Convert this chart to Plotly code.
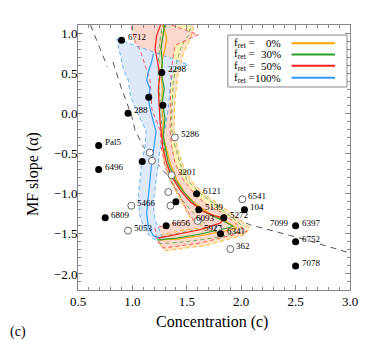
import plotly.graph_objects as go

# ---------------- data ----------------
# dashed model curves (c, alpha)
curveA_c = [0.615, 0.66, 0.71, 0.77]
curveA_a = [1.10, 0.95, 0.80, 0.58]
curveB_c = [0.822, 0.858, 0.904, 0.95, 0.996, 1.024, 1.10, 1.30, 1.50, 1.62, 2.08, 2.54, 2.97, 3.0]
curveB_a = [0.639, 0.478, 0.291, 0.129, -0.045, -0.206, -0.414, -0.74, -0.974, -1.09, -1.388, -1.553, -1.728, -1.74]

# median tracks
blue_c = [1.192, 1.177, 1.146, 1.131, 1.162, 1.146, 1.162, 1.192, 1.217, 1.199, 1.177, 1.162, 1.146, 1.131, 1.146, 1.192, 1.254]
blue_a = [0.743, 0.639, 0.515, 0.412, 0.307, 0.183, 0.058, -0.107, -0.231, -0.414, -0.621, -0.828, -1.036, -1.243, -1.409, -1.525, -1.554]
red_c = [1.269, 1.223, 1.208, 1.233, 1.254, 1.238, 1.244, 1.254, 1.269, 1.278, 1.315, 1.361, 1.438, 1.529, 1.651, 1.759, 1.851, 1.805, 1.621, 1.407, 1.238]
red_a = [1.137, 0.971, 0.805, 0.639, 0.474, 0.307, 0.101, -0.107, -0.272, -0.414, -0.621, -0.787, -0.953, -1.098, -1.223, -1.276, -1.305, -1.367, -1.450, -1.512, -1.554]
green_c = [1.300, 1.284, 1.263, 1.275, 1.269, 1.293, 1.275, 1.300, 1.284, 1.300, 1.330, 1.392, 1.468, 1.575, 1.683, 1.805, 1.927, 1.805, 1.591, 1.407, 1.238]
green_a = [1.137, 0.971, 0.805, 0.639, 0.474, 0.307, 0.142, -0.066, -0.272, -0.414, -0.621, -0.828, -0.974, -1.139, -1.243, -1.317, -1.409, -1.450, -1.512, -1.554, -1.575]
orange_c = [1.284, 1.284, 1.315, 1.300, 1.275, 1.263, 1.275, 1.269, 1.284, 1.275, 1.309, 1.346, 1.407, 1.483, 1.591, 1.713, 1.835, 1.959, 1.835, 1.621, 1.407, 1.254]
orange_a = [1.137, 1.096, 0.929, 0.805, 0.680, 0.515, 0.307, 0.101, -0.107, -0.272, -0.414, -0.621, -0.828, -0.993, -1.139, -1.251, -1.326, -1.429, -1.471, -1.524, -1.566, -1.575]

# spread envelopes (closed outlines)
blue_band_c = [0.856, 1.514, 1.376, 1.346, 1.330, 1.300, 1.254, 1.229, 1.208, 1.192, 1.208, 1.254, 1.284, 1.223, 1.162, 1.100, 1.063, 1.054, 1.070, 1.085, 1.116, 1.125, 1.100, 1.054, 1.008, 0.978, 0.962, 0.916, 0.886, 0.856]
blue_band_a = [0.929, 0.606, 0.536, 0.307, 0.058, -0.190, -0.455, -0.704, -0.912, -1.118, -1.326, -1.491, -1.575, -1.587, -1.534, -1.409, -1.243, -1.036, -0.828, -0.621, -0.414, -0.206, -0.148, -0.024, 0.121, 0.245, 0.412, 0.556, 0.723, 0.929]
red_band_c = [0.978, 1.284, 1.606, 1.392, 1.364, 1.346, 1.355, 1.346, 1.361, 1.392, 1.468, 1.591, 1.713, 1.835, 1.927, 2.051, 1.621, 1.284, 1.223, 1.208, 1.315, 1.560, 1.499, 1.438, 1.361, 1.300, 1.269, 1.254, 1.180, 1.162, 1.070, 1.024, 0.978]
red_band_a = [1.137, 1.137, 0.979, 0.847, 0.602, 0.291, 0.042, -0.206, -0.414, -0.621, -0.828, -1.036, -1.160, -1.243, -1.347, -1.471, -1.616, -1.678, -1.575, -1.429, -1.388, -1.326, -1.201, -1.036, -0.869, -0.663, -0.455, -0.206, 0.042, 0.415, 0.789, 0.888, 1.137]
green_band_c = [1.281, 1.545, 1.514, 1.453, 1.407, 1.376, 1.364, 1.361, 1.392, 1.438, 1.499, 1.621, 1.744, 1.867, 2.019, 1.959, 1.759, 1.483, 1.254, 1.226, 1.438, 1.713, 1.575, 1.456, 1.364, 1.309, 1.272, 1.254, 1.235, 1.254, 1.281]
green_band_a = [1.137, 1.137, 0.971, 0.847, 0.639, 0.391, 0.067, -0.206, -0.414, -0.621, -0.828, -0.994, -1.118, -1.243, -1.409, -1.488, -1.550, -1.600, -1.624, -1.550, -1.488, -1.425, -1.264, -1.077, -0.853, -0.604, -0.206, 0.167, 0.540, 0.913, 1.137]
orange_band_c = [1.300, 1.575, 1.529, 1.465, 1.419, 1.392, 1.382, 1.419, 1.474, 1.548, 1.667, 1.805, 1.943, 2.081, 2.035, 1.667, 1.300, 1.235, 1.272, 1.483, 1.667, 1.529, 1.438, 1.346, 1.290, 1.263, 1.244, 1.244, 1.263, 1.300]
orange_band_a = [1.137, 1.137, 0.913, 0.726, 0.478, 0.167, -0.206, -0.455, -0.679, -0.853, -1.015, -1.139, -1.276, -1.425, -1.512, -1.649, -1.711, -1.599, -1.512, -1.450, -1.425, -1.301, -1.077, -0.828, -0.580, -0.206, 0.167, 0.540, 0.913, 1.137]

# clusters
filled_c = [0.90, 1.27, 1.15, 1.28, 0.96, 0.69, 0.69, 1.09, 0.75, 1.40, 1.31, 1.59, 1.61, 1.84, 1.81, 2.03, 2.50, 2.50, 2.50]
filled_a = [0.91, 0.51, 0.20, 0.10, 0.00, -0.40, -0.70, -0.60, -1.30, -1.10, -1.40, -1.00, -1.20, -1.30, -1.50, -1.20, -1.40, -1.60, -1.90]
filled_lbl = ["6712", "2298", "", "", "288", "Pal5", "6496", "", "6809", "", "6656", "6121", "5139", "5272", "6341", "104", "6397", "6752", "7078"]
open_c = [1.39, 1.16, 1.18, 1.36, 1.33, 1.35, 0.99, 0.96, 2.01, 1.90, 1.79, 1.60]
open_a = [-0.30, -0.49, -0.59, -0.77, -0.98, -1.15, -1.15, -1.46, -1.07, -1.69, -1.44, -1.34]
open_lbl = ["5286", "", "", "3201", "", "", "5466", "5053", "6541", "362", "", "5927"]
extra_lbl = ["7099", "6093"]
extra_c = [2.50, 1.79]
extra_a = [-1.40, -1.30]

leg_names = ["0%", "30%", "50%", "100%"]

# ---------------- styles ----------------
FONT = "Liberation Serif, DejaVu Serif, serif"
col = {"orange": "#ffa500", "green": "#2ca02c", "red": "#ff2020", "blue": "#3399ff"}
fillc = {"orange": "#fde3c3", "green": "#fbf2b6", "red": "#fcd8cc", "blue": "#dde9f8"}

fig = go.Figure()

# model curves beneath
for cc, aa in [(curveA_c, curveA_a), (curveB_c, curveB_a)]:
    fig.add_trace(go.Scatter(x=cc, y=aa, mode="lines", line=dict(color="#555555", width=1, dash="6px,5px"),
                             hoverinfo="skip", showlegend=False))

bands = [("orange", orange_band_c, orange_band_a), ("green", green_band_c, green_band_a),
         ("red", red_band_c, red_band_a), ("blue", blue_band_c, blue_band_a)]
for name, bc, ba in bands:
    fig.add_trace(go.Scatter(x=bc, y=ba, mode="lines", fill="toself", fillcolor=fillc[name],
                             line=dict(width=0), hoverinfo="skip", showlegend=False))
for name, bc, ba in bands:
    fig.add_trace(go.Scatter(x=bc, y=ba, mode="lines", line=dict(color=col[name], width=1, dash="4px,3px"),
                             opacity=0.7, hoverinfo="skip", showlegend=False))

for name, lc, la in [("blue", blue_c, blue_a), ("orange", orange_c, orange_a),
                     ("green", green_c, green_a), ("red", red_c, red_a)]:
    fig.add_trace(go.Scatter(x=lc, y=la, mode="lines", line=dict(color=col[name], width=1.2),
                             hoverinfo="skip", showlegend=False))

fig.add_trace(go.Scatter(x=open_c, y=open_a, mode="markers",
                         marker=dict(size=7, color="white", line=dict(color="#666666", width=1)),
                         showlegend=False))
fig.add_trace(go.Scatter(x=filled_c, y=filled_a, mode="markers",
                         marker=dict(size=7, color="black", line=dict(width=0)), showlegend=False))

LBL = dict(family=FONT, size=9, color="black")
ann = []
for c, a, t in list(zip(filled_c, filled_a, filled_lbl)) + list(zip(open_c, open_a, open_lbl)):
    if t:
        ys = -7 if t == "5927" else 3
        ann.append(dict(x=c, y=a, xref="x", yref="y", text=t, showarrow=False, xanchor="left",
                        yanchor="middle", xshift=4, yshift=ys, font=LBL))
ann.append(dict(x=extra_c[0], y=extra_a[0], xref="x", yref="y", text=extra_lbl[0], showarrow=False,
                xanchor="right", yanchor="middle", xshift=-5, yshift=3, font=LBL))
ann.append(dict(x=extra_c[1], y=extra_a[1], xref="x", yref="y", text=extra_lbl[1], showarrow=False,
                xanchor="right", yanchor="middle", xshift=-1, yshift=0, font=LBL))
ann.append(dict(x=-0.257, y=-0.158, xref="paper", yref="paper", text="(c)", showarrow=False,
                xanchor="left", yanchor="middle", font=dict(family=FONT, size=14, color="black")))
# axis titles
ann.append(dict(x=0.494, y=-0.121, xref="paper", yref="paper", text="Concentration (c)", showarrow=False,
                xanchor="center", yanchor="middle", font=dict(family=FONT, size=16, color="black")))
ann.append(dict(x=-0.165, y=0.438, xref="paper", yref="paper", text="MF slope (α)", showarrow=False,
                textangle=-90, xanchor="center", yanchor="middle", font=dict(family=FONT, size=16, color="black")))

# manual legend (text left, line right)
shapes = [dict(type="rect", xref="paper", yref="paper", x0=0.551, x1=0.989, y0=0.766, y1=0.962,
               line=dict(color="#888888", width=1), fillcolor="white", layer="above")]
row_y = [0.931, 0.889, 0.846, 0.801]
for i, (name, lab) in enumerate(zip(["orange", "green", "red", "blue"], leg_names)):
    ann.append(dict(x=0.565, y=row_y[i], xref="paper", yref="paper", xanchor="left", yanchor="middle",
                    text="f<sub>ret</sub> =", showarrow=False, font=dict(family=FONT, size=11, color="black")))
    ann.append(dict(x=0.755, y=row_y[i], xref="paper", yref="paper", xanchor="right", yanchor="middle",
                    text=lab, showarrow=False, font=dict(family=FONT, size=11, color="black")))
    shapes.append(dict(type="line", xref="paper", yref="paper", x0=0.785, x1=0.945, y0=row_y[i], y1=row_y[i],
                       line=dict(color=col[name], width=2), layer="above"))

axis_common = dict(showline=True, linecolor="#888888", linewidth=1, mirror="allticks", ticks="inside",
                   ticklen=5, tickcolor="#888888", showgrid=False, zeroline=False,
                   tickfont=dict(family=FONT, size=13, color="black"),
                   minor=dict(ticks="inside", ticklen=3, tickcolor="#888888", dtick=0.1, showgrid=False))
fig.update_layout(
    width=374, height=340, margin=dict(l=70, r=32, t=17, b=58),
    paper_bgcolor="white", plot_bgcolor="white",
    xaxis=dict(range=[0.5, 3.0], dtick=0.5, tickformat=".1f", ticklabelstandoff=-1, **axis_common),
    yaxis=dict(range=[-2.2, 1.1], dtick=0.5, tickformat=".1f", ticklabelstandoff=-3, **axis_common),
    annotations=ann, shapes=shapes, showlegend=False,
)
fig.write_html("out.html")
